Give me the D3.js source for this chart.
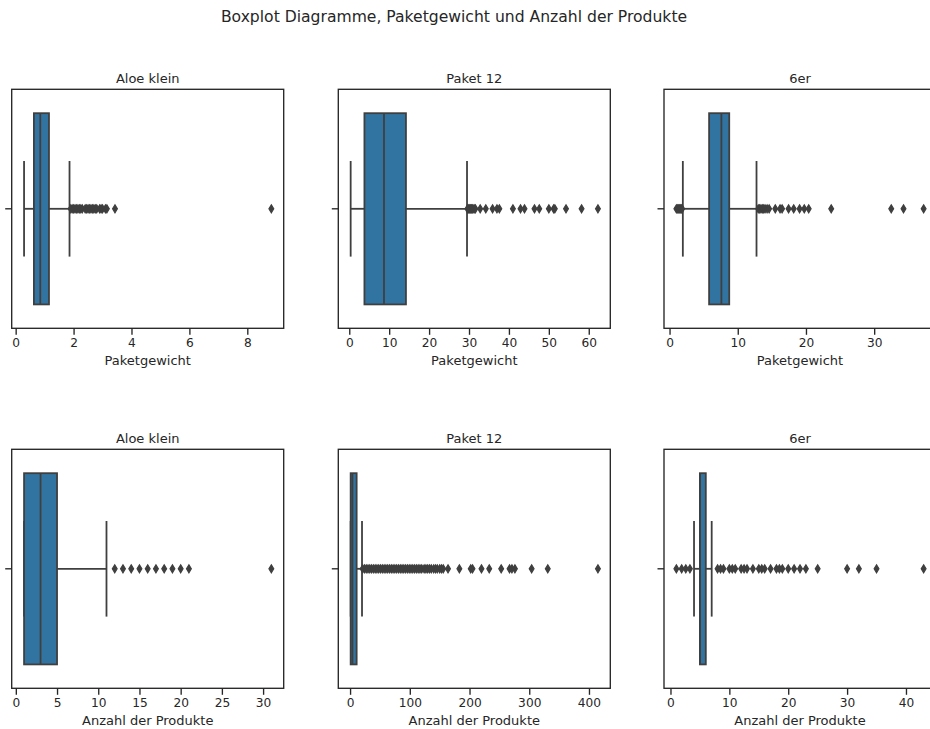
<!DOCTYPE html>
<html lang="de">
<head>
<meta charset="utf-8">
<script src="https://d3js.org/d3.v7.min.js"></script>
<style>
  body { margin: 0; background: #fff; }
  text { font-family: "DejaVu Sans", sans-serif; fill: #262626; }
</style>
</head>
<body>
<svg width="930" height="729"></svg>
<script>
// Boxplots: Paketgewicht (obere Reihe) und Anzahl der Produkte (untere Reihe)

var titles = ["Aloe klein", "Paket 12", "6er"];
var xLabels = ["Paketgewicht", "Anzahl der Produkte"];

// [unterer Whisker, Q1, Median, Q3, oberer Whisker]
var gewichtStats = [
  [0.29, 0.63, 0.85, 1.15, 1.86],
  [0.35, 3.8, 8.7, 14.2, 29.5],
  [1.95, 5.8, 7.6, 8.75, 12.75]
];
var gewichtOutliers = [
  [1.9, 1.95, 2.0, 2.05, 2.1, 2.15, 2.2, 2.25, 2.3, 2.4, 2.45, 2.5, 2.55, 2.6, 2.65, 2.7, 2.75, 2.8, 2.9, 2.95, 3.0, 3.1, 3.15, 3.43, 8.83],
  [29.6, 29.8, 30.0, 30.2, 30.4, 30.6, 30.8, 31.0, 31.3, 31.6, 32.8, 34.2, 35.9, 37.0, 37.6, 41.0, 42.9, 43.9, 46.4, 47.6, 50.0, 51.2, 51.5, 54.3, 58.2, 62.3],
  [1.0, 1.15, 1.3, 1.45, 1.6, 1.75, 1.85, 13.0, 13.2, 13.4, 13.6, 13.8, 14.0, 14.3, 14.6, 15.5, 16.2, 16.5, 17.45, 18.2, 19.06, 19.75, 20.4, 23.7, 32.5, 34.3, 37.25]
];
var anzahlStats = [
  [1, 1, 3, 5, 11],
  [1, 1, 4, 11, 20],
  [4, 5, 5, 6, 7]
];
var anzahlOutliers = [
  [12, 13, 14, 15, 16, 17, 18, 19, 20, 21, 31],
  [21, 24, 27, 30, 33, 36, 39, 42, 45, 48, 51, 54, 57, 60, 63, 66, 69, 72, 75, 78, 81, 84, 87, 90, 93, 96, 99, 102, 105,
   108, 111, 114, 117, 120, 124, 127, 130, 133, 136, 140, 143, 146, 150, 153, 156, 164, 183, 202, 205, 220, 233, 253, 267, 271, 276, 304, 331, 415],
  [1, 1.9, 2.6, 3.3, 8, 8.5, 9, 10, 10.5, 11, 12, 12.5, 13, 14, 15, 15.5, 16, 17, 18, 18.5, 19, 20, 21, 22, 23, 25, 30, 32, 35, 43]
];
var gewichtTicks = [[0, 2, 4, 6, 8], [0, 10, 20, 30, 40, 50, 60], [0, 10, 20, 30]];
var anzahlTicks = [[0, 5, 10, 15, 20, 25, 30], [0, 100, 200, 300, 400], [0, 10, 20, 30, 40]];

var svg = d3.select("svg");

var boxColor = "#3274a1",
    lineGray = "#3f3f3f",
    spine = "#262626";

var colLeft = [11.7, 338.3, 664],
    rowTop = [89.3, 449.3],
    pw = 272, ph = 239;

svg.append("text")
    .attr("x", 454).attr("y", 22)
    .attr("text-anchor", "middle")
    .style("font-size", "15.6px")
    .text("Boxplot Diagramme, Paketgewicht und Anzahl der Produkte");

var rows = [
  { stats: gewichtStats, outliers: gewichtOutliers, ticks: gewichtTicks },
  { stats: anzahlStats, outliers: anzahlOutliers, ticks: anzahlTicks }
];

rows.forEach(function(row, r) {
  titles.forEach(function(title, c) {
    var s = row.stats[c], out = row.outliers[c];
    var lo = d3.min([s[0]].concat(out)), hi = d3.max([s[4]].concat(out));
    var pad = (hi - lo) * 0.05;

    var x = d3.scaleLinear().domain([lo - pad, hi + pad]).range([0, pw]);
    var y = d3.scaleLinear().domain([-0.5, 0.5]).range([0, ph]);

    var g = svg.append("g")
        .attr("transform", "translate(" + colLeft[c] + "," + rowTop[r] + ")");

    // whiskers
    g.append("line").attr("x1", x(s[0])).attr("x2", x(s[1]))
        .attr("y1", y(0)).attr("y2", y(0));
    g.append("line").attr("x1", x(s[3])).attr("x2", x(s[4]))
        .attr("y1", y(0)).attr("y2", y(0));
    // caps
    [s[0], s[4]].forEach(function(v) {
      g.append("line").attr("x1", x(v)).attr("x2", x(v))
          .attr("y1", y(-0.2)).attr("y2", y(0.2));
    });
    g.selectAll("line").attr("stroke", lineGray).attr("stroke-width", 1.8);

    // box
    g.append("rect")
        .attr("x", x(s[1])).attr("width", x(s[3]) - x(s[1]))
        .attr("y", y(-0.4)).attr("height", y(0.4) - y(-0.4))
        .attr("fill", boxColor)
        .attr("stroke", lineGray).attr("stroke-width", 1.8);
    // median
    g.append("line").attr("x1", x(s[2])).attr("x2", x(s[2]))
        .attr("y1", y(-0.4)).attr("y2", y(0.4))
        .attr("stroke", lineGray).attr("stroke-width", 1.8);

    // outliers (thin diamonds)
    g.selectAll(".flier").data(out).enter().append("path")
        .attr("class", "flier")
        .attr("transform", function(d) { return "translate(" + x(d) + "," + y(0) + ")"; })
        .attr("d", "M0,-4L2.4,0L0,4L-2.4,0Z")
        .attr("fill", lineGray)
        .attr("stroke", lineGray).attr("stroke-width", 1.2);

    // frame
    g.append("rect")
        .attr("width", pw).attr("height", ph)
        .attr("fill", "none")
        .attr("stroke", spine).attr("stroke-width", 1.35);

    // x axis
    var ax = g.append("g")
        .attr("transform", "translate(0," + ph + ")")
        .call(d3.axisBottom(x).tickValues(row.ticks[c]).tickFormat(d3.format("d"))
          .tickSize(6.5).tickPadding(3.5));
    ax.select(".domain").remove();
    ax.selectAll(".tick line").attr("stroke", spine).attr("stroke-width", 1.35);
    ax.selectAll(".tick text")
        .style("font-size", "12.2px")
        .style("font-family", "'DejaVu Sans', sans-serif")
        .attr("fill", spine);

    // single y tick at the category centre
    g.append("line").attr("x1", -6.5).attr("x2", 0)
        .attr("y1", y(0)).attr("y2", y(0))
        .attr("stroke", spine).attr("stroke-width", 1.35);

    g.append("text")
        .attr("x", pw / 2).attr("y", -6.3)
        .attr("text-anchor", "middle")
        .style("font-size", "13px")
        .text(title);

    g.append("text")
        .attr("x", pw / 2).attr("y", ph + 36.5)
        .attr("text-anchor", "middle")
        .style("font-size", "13px")
        .text(xLabels[r]);
  });
});
</script>
</body>
</html>
